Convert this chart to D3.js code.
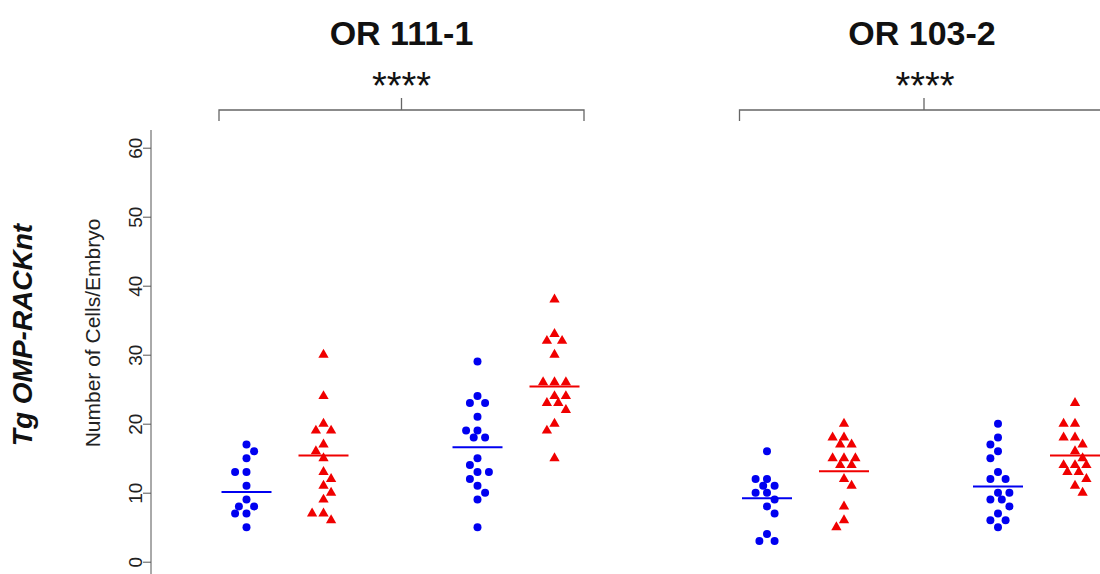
<!DOCTYPE html>
<head>
<meta charset="utf-8">
<title>Cells per embryo</title>
<style>
body { margin: 0; background: #fff; }
svg { font-family: "Liberation Sans", Arial, sans-serif; }
.axis path, .axis line { stroke: #555; }
</style>
</head>
<body>
<svg id="chart" width="1100" height="574"></svg>
<script src="https://d3js.org/d3.v7.min.js"></script>
<script>

// panel titles and significance marks
var panels = ["OR 111-1", "OR 103-2"];
var stars = ["****", "****"];

// group slots inside a panel (gap between the two pairs)
var slots = [1, 2, 4, 5];
var groupColors = ["#0000f0", "#f00000", "#0000f0", "#f00000"];
var groupShapes = ["circle", "triangle", "circle", "triangle"];

// cells per embryo
var or111_a = [17, 16, 15, 13, 13, 11, 9, 8, 8, 7, 7, 5];
var or111_b = [30, 24, 20, 19, 19, 17, 16, 15, 13, 12, 11, 10, 9, 7, 7, 6];
var or111_c = [29, 24, 23, 23, 21, 19, 19, 18, 18, 15, 14, 13, 13, 12, 11, 10, 9, 5];
var or111_d = [38, 33, 32, 32, 30, 26, 26, 26, 24, 24, 23, 23, 22, 20, 19, 15];
var or103_a = [16, 12, 12, 11, 11, 10, 10, 9, 8, 7, 4, 3, 3];
var or103_b = [20, 18, 18, 17, 17, 15, 15, 15, 14, 14, 12, 11, 8, 6, 5];
var or103_c = [20, 18, 17, 16, 15, 13, 12, 12, 10, 10, 9, 9, 8, 7, 6, 6, 5];
var or103_d = [23, 20, 20, 18, 18, 17, 16, 15, 14, 14, 14, 13, 13, 12, 11, 10];

// horizontal bar for each group
var or111_lines = [10.1, 15.4, 16.6, 25.4];
var or103_lines = [9.2, 13.1, 10.9, 15.4];

var yTicks = [0, 10, 20, 30, 40, 50, 60];

var panelData = [
  {title: panels[0], star: stars[0], groups: [or111_a, or111_b, or111_c, or111_d], lines: or111_lines},
  {title: panels[1], star: stars[1], groups: [or103_a, or103_b, or103_c, or103_d], lines: or103_lines}
];

var svg = d3.select("#chart");

var y = d3.scaleLinear().domain([0, 60]).range([561.7, 147.7]);

var x = d3.scaleLinear().domain([1, 5]).range([246.5, 554.5]);
var panelShift = 520.5;

// y axis
var yAxis = d3.axisLeft(y).tickValues(yTicks).tickSize(8).tickSizeOuter(0);
var gy = svg.append("g").attr("class", "axis").attr("transform", "translate(151,0)").call(yAxis);
gy.select(".domain").remove();
gy.append("line").attr("y1", 130).attr("y2", 574).attr("stroke", "#555");
gy.selectAll(".tick text")
    .attr("font-size", 19)
    .attr("fill", "#222")
    .attr("text-anchor", "middle")
    .attr("x", null).attr("dy", null)
    .attr("transform", "translate(-9,0) rotate(-90)");

svg.append("text")
    .attr("transform", "translate(100,333) rotate(-90)")
    .attr("text-anchor", "middle")
    .attr("font-size", 21)
    .attr("fill", "#222")
    .text("Number of Cells/Embryo");

svg.append("text")
    .attr("transform", "translate(32,335) rotate(-90)")
    .attr("text-anchor", "middle")
    .attr("font-size", 28)
    .attr("font-weight", "bold")
    .attr("font-style", "italic")
    .attr("fill", "#111")
    .text("Tg OMP-RACKnt");

// place points side by side so they don't pile up
function swarm(values, cx) {
  var placed = [];
  return values.map(function(v, i) {
    var py = y(v);
    var side = i % 2 ? 1 : -1;
    var best = null, bestD = -1;
    for (var k = 0; k <= 3; k++) {
      var signs = k ? [side, -side] : [1];
      for (var s = 0; s < signs.length; s++) {
        var px = cx + signs[s] * k * 3.8;
        var d = placed.length ? d3.min(placed, function(p) { return Math.hypot(p[0] - px, p[1] - py); }) : Infinity;
        if (d > bestD) { bestD = d; best = px; }
        if (d >= 8) { k = 99; break; }
      }
    }
    placed.push([best, py]);
    return {x: best, y: py};
  });
}

var circle = d3.symbol().type(d3.symbolCircle).size(50);
var triangle = d3.symbol().type(d3.symbolTriangle).size(46);

panelData.forEach(function(p, pi) {
  var g = svg.append("g").attr("transform", "translate(" + (pi * panelShift) + ",0)");
  var mid = (x(slots[0]) + x(slots[3])) / 2 + 1;

  g.append("text")
      .attr("x", mid).attr("y", 45)
      .attr("text-anchor", "middle")
      .attr("font-size", 34)
      .attr("font-weight", "bold")
      .attr("fill", "#111")
      .text(p.title);

  g.append("text")
      .attr("x", mid + pi * 3).attr("y", 99)
      .attr("text-anchor", "middle")
      .attr("font-size", 38)
      .attr("fill", "#111")
      .text(p.star);

  var left = x(slots[0]) - 27.5, right = x(slots[3]) + 29.5;
  g.append("path")
      .attr("d", "M" + left + ",121V110H" + right + "V121M" + (mid + pi * 2) + ",110V98")
      .attr("fill", "none")
      .attr("stroke", "#666")
      .attr("stroke-width", 1.3);

  p.groups.forEach(function(vals, gi) {
    var cx = x(slots[gi]);
    var pts = swarm(vals, cx);
    g.selectAll(null)
        .data(pts)
        .enter().append("path")
        .attr("d", groupShapes[gi] == "circle" ? circle : triangle)
        .attr("transform", function(d) { return "translate(" + d.x + "," + d.y + ")"; })
        .attr("fill", groupColors[gi]);

    g.append("line")
        .attr("x1", cx - 25).attr("x2", cx + 25)
        .attr("y1", y(p.lines[gi])).attr("y2", y(p.lines[gi]))
        .attr("stroke", groupColors[gi])
        .attr("stroke-width", 2);
  });
});
</script>
</body>
